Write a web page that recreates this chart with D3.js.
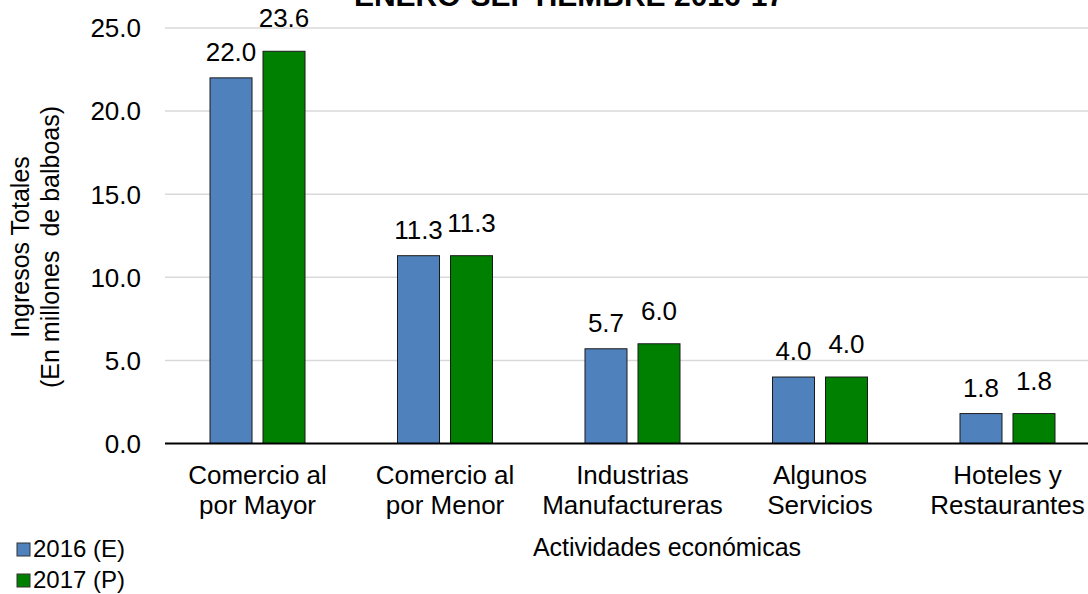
<!DOCTYPE html>
<html lang="es">
<head>
  <meta charset="utf-8">
  <title>Ingresos totales por actividad</title>
  <script src="https://d3js.org/d3.v7.min.js"></script>
  <style>
    html, body { margin: 0; padding: 0; background: #fff; }
    svg { display: block; font-family: "Liberation Sans", Arial, sans-serif; }
    .grid line { stroke: #d9d9d9; stroke-width: 1.5; }
    .tick-label, .cat-label, .val-label, .legend text, .axis-title { fill: #000; }
  </style>
</head>
<body>
  <svg id="chart" width="1088" height="594"></svg>
  <script>
    // data
    const categories = [
      ["Comercio al", "por Mayor"],
      ["Comercio al", "por Menor"],
      ["Industrias", "Manufactureras"],
      ["Algunos", "Servicios"],
      ["Hoteles y", "Restaurantes"]
    ];
    const seriesNames = ["2016 (E)", "2017 (P)"];
    const values2016 = [22.0, 11.3, 5.7, 4.0, 1.8];
    const values2017 = [23.6, 11.3, 6.0, 4.0, 1.8];
    const yTicks = [0, 5, 10, 15, 20, 25];

    const colors = ["#4f81bd", "#008000"];
    const labelLift = [17, 24];

    const svg = d3.select('#chart');
    const W = 1088;

    const x0 = d3.scaleBand()
      .domain(d3.range(categories.length))
      .range([163.75, 1101.25])
      .paddingInner(0.4933)
      .paddingOuter(0.2467);
    const x1 = d3.scaleBand()
      .domain(d3.range(seriesNames.length))
      .range([0, x0.bandwidth()])
      .paddingInner(0.2075);
    const y = d3.scaleLinear().domain([0, 25]).range([443.5, 28]);

    // gridlines
    svg.append('g').attr('class', 'grid')
      .selectAll('line')
      .data(yTicks.filter(d => d > 0))
      .join('line')
        .attr('x1', 165).attr('x2', W)
        .attr('y1', d => y(d)).attr('y2', d => y(d));

    // y tick labels
    svg.append('g')
      .selectAll('text')
      .data(yTicks)
      .join('text')
        .attr('class', 'tick-label')
        .attr('x', 141)
        .attr('y', d => y(d))
        .attr('dy', '0.36em')
        .attr('text-anchor', 'end')
        .style('font-size', '26px')
        .text(d => d3.format('.1f')(d));

    // bars
    const allSeries = [values2016, values2017];
    const bars = svg.append('g');
    allSeries.forEach((vals, s) => {
      bars.selectAll('rect.s' + s)
        .data(vals)
        .join('rect')
          .attr('class', 's' + s)
          .attr('x', (d, i) => x0(i) + x1(s))
          .attr('y', d => y(d))
          .attr('width', x1.bandwidth())
          .attr('height', d => y(0) - y(d))
          .attr('fill', colors[s])
          .attr('stroke', '#1a1a1a')
          .attr('stroke-width', 1);

      bars.selectAll('text.v' + s)
        .data(vals)
        .join('text')
          .attr('class', 'val-label v' + s)
          .attr('x', (d, i) => x0(i) + x1(s) + x1.bandwidth() / 2)
          .attr('y', d => y(d) - labelLift[s])
          .attr('text-anchor', 'middle')
          .style('font-size', '26px')
          .text(d => d3.format('.1f')(d));
    });

    // x axis line
    svg.append('line')
      .attr('x1', 165).attr('x2', W)
      .attr('y1', y(0)).attr('y2', y(0))
      .attr('stroke', '#000').attr('stroke-width', 2);

    // category labels
    const cat = svg.append('g').selectAll('text')
      .data(categories)
      .join('text')
        .attr('class', 'cat-label')
        .attr('text-anchor', 'middle')
        .style('font-size', '26px');
    cat.each(function(lines, i) {
      const cx = x0(i) + x0.bandwidth() / 2;
      d3.select(this).selectAll('tspan')
        .data(lines)
        .join('tspan')
          .attr('x', cx)
          .attr('y', (d, j) => 484 + j * 30)
          .text(d => d);
    });

    // axis titles
    svg.append('text')
      .attr('class', 'axis-title')
      .attr('x', 667).attr('y', 556)
      .attr('text-anchor', 'middle')
      .style('font-size', '25px')
      .text('Actividades económicas');

    const yt = svg.append('text')
      .attr('class', 'axis-title')
      .attr('transform', 'translate(0,247) rotate(-90)')
      .attr('text-anchor', 'middle')
      .style('font-size', '25px')
      .style('white-space', 'pre');
    yt.append('tspan').attr('x', 0).attr('y', 29).text('Ingresos Totales');
    yt.append('tspan').attr('x', 0).attr('y', 59).text('(En millones  de balboas)');

    // title (top cut off)
    svg.append('text')
      .attr('x', 569).attr('y', 6)
      .attr('text-anchor', 'middle')
      .style('font-size', '30px')
      .style('font-weight', 'bold')
      .text('ENERO-SEPTIEMBRE 2016-17');

    // legend
    const leg = svg.append('g').attr('class', 'legend')
      .selectAll('g')
      .data(seriesNames)
      .join('g')
        .attr('transform', (d, i) => `translate(17,${543 + i * 31})`);
    leg.append('rect')
      .attr('width', 13).attr('height', 13)
      .attr('fill', (d, i) => colors[i])
      .attr('stroke', '#333').attr('stroke-width', 1);
    leg.append('text')
      .attr('x', 16).attr('y', 14)
      .style('font-size', '24px')
      .text(d => d);
  </script>
</body>
</html>
